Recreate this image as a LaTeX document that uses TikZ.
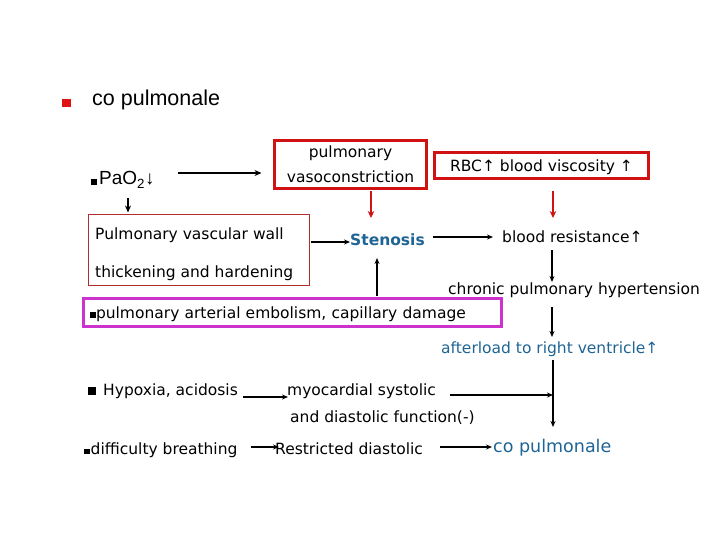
\documentclass[tikz,border=0pt]{standalone}
\usepackage{fontspec}
\setmainfont{DejaVu Sans}
\newfontfamily\arialf{Liberation Sans}
\usetikzlibrary{arrows.meta}
\definecolor{boxred}{RGB}{208,18,18}
\definecolor{bulred}{RGB}{222,20,20}
\definecolor{wallred}{RGB}{175,45,45}
\definecolor{magbox}{RGB}{204,51,204}
\definecolor{tblue}{RGB}{30,100,148}
\begin{document}
\begin{tikzpicture}[x=1pt,y=-1pt,
  txt/.style={inner sep=0pt, anchor=base west, font=\fontsize{15.5}{18}\selectfont},
  bluetxt/.style={txt, text=tblue},
  arr/.style={draw=black, line width=1.6pt, -{Stealth[length=6pt,width=5pt]}},
  thickarr/.style={draw=black, line width=2.6pt, -{Stealth[length=7pt,width=6pt]}},
  redarr/.style={draw=boxred, line width=2.5pt, -{Stealth[length=7pt,width=6.5pt]}},
  redbox/.style={draw=boxred, line width=3pt, inner sep=0pt},
]
\useasboundingbox (0,0) rectangle (720,540);

% title
\node[fill=bulred, minimum size=8.5, inner sep=0pt] (tbul) at (66.5,103) {};
\node[txt, font=\arialf\fontsize{21.5}{24}\selectfont] (title) at (92,106) {co pulmonale};

% PaO2
\node[txt, font=\arialf\fontsize{19}{22}\selectfont] (pao) at (91,185) {\rule{6pt}{6pt}\hspace{2pt}PaO\textsubscript{2}↓};

% boxes
\node[redbox, minimum width=152, minimum height=48, align=center,
      font=\fontsize{15.5}{25}\selectfont] (vaso) at (350.5,164.5) {pulmonary\\vasoconstriction};
\node[redbox, minimum width=214, minimum height=26, text depth=0pt,
      font=\fontsize{15.5}{18}\selectfont] (rbc) at (541.5,165.5) {RBC↑ blood viscosity ↑};

\node[draw=wallred, line width=1pt, minimum width=221, minimum height=71, inner sep=0pt] (wallbox) at (199,250) {};
\node[txt] (wall1) at (95,240) {Pulmonary vascular wall};
\node[txt] (wall2) at (95,277) {thickening and hardening};

\node[draw=magbox, line width=3pt, minimum width=418, minimum height=28, inner ysep=0pt,
      inner xsep=6.5pt, text width=405pt, align=left, text depth=0pt,
      font=\fontsize{15.5}{18}\selectfont] (mag) at (292.5,312.5)
      {\rule{6pt}{6pt}pulmonary arterial embolism, capillary damage};

% other texts
\node[txt, font=\fontsize{15.5}{18}\selectfont\bfseries, text=tblue] (sten) at (350,245) {Stenosis};
\node[txt] (resist) at (502,243) {blood resistance↑};
\node[txt] (chronic) at (448,294) {chronic pulmonary hypertension};
\node[bluetxt] (after) at (441,353) {afterload to right ventricle↑};
\node[txt] (hyp) at (88,395) {\rule{8pt}{8pt}\hspace{7pt}Hypoxia, acidosis};
\node[txt] (myo1) at (287,395) {myocardial systolic};
\node[txt] (myo2) at (290,422) {and diastolic function(-)};
\node[txt] (diff) at (84,454) {\rule{5.5pt}{5.5pt}\hspace{1pt}difficulty breathing};
\node[txt] (restr) at (275,454) {Restricted diastolic};
\node[bluetxt, font=\fontsize{17.5}{20}\selectfont] (copul) at (493,452) {co pulmonale};

% connectors
\draw[thickarr] ([shift={(87,-12)}]pao.base west) -- ([shift={(-11.5,8.5)}]vaso.west);
\draw[thickarr] ([shift={(37,13)}]pao.base west) -- ([shift={(-71,-1.5)}]wallbox.north);
\draw[redarr] ([shift={(20.5,1.5)}]vaso.south) -- ([shift={(21,-27)}]sten.base west);
\draw[redarr] ([shift={(11.5,11.5)}]rbc.south) -- ([shift={(51,-25)}]resist.base west);
\draw[arr] ([shift={(0.5,-8)}]wallbox.east) -- ([shift={(0,-3)}]sten.base west);
\draw[arr] ([shift={(83,-8)}]sten.base west) -- ([shift={(-9,-6)}]resist.base west);
\draw[arr] ([shift={(84.5,-1.5)}]mag.north) -- ([shift={(27,13)}]sten.base west);
\draw[arr] ([shift={(50,7)}]resist.base west) -- ([shift={(104,-12)}]chronic.base west);
\draw[arr] ([shift={(104,13)}]chronic.base west) -- ([shift={(111,-16)}]after.base west);
\draw[arr] ([shift={(112,7)}]after.base west) -- ([shift={(60,-25)}]copul.base west);
\draw[arr] ([shift={(163,0)}]myo1.base west) -- ([shift={(60,-57)}]copul.base west);
\draw[arr] ([shift={(155,2)}]hyp.base west) -- ([shift={(1,2)}]myo1.base west);
\draw[arr] ([shift={(167,-7)}]diff.base west) -- ([shift={(4,-7)}]restr.base west);
\draw[arr] ([shift={(165,-7)}]restr.base west) -- ([shift={(-1,-5)}]copul.base west);
\end{tikzpicture}
\end{document}
